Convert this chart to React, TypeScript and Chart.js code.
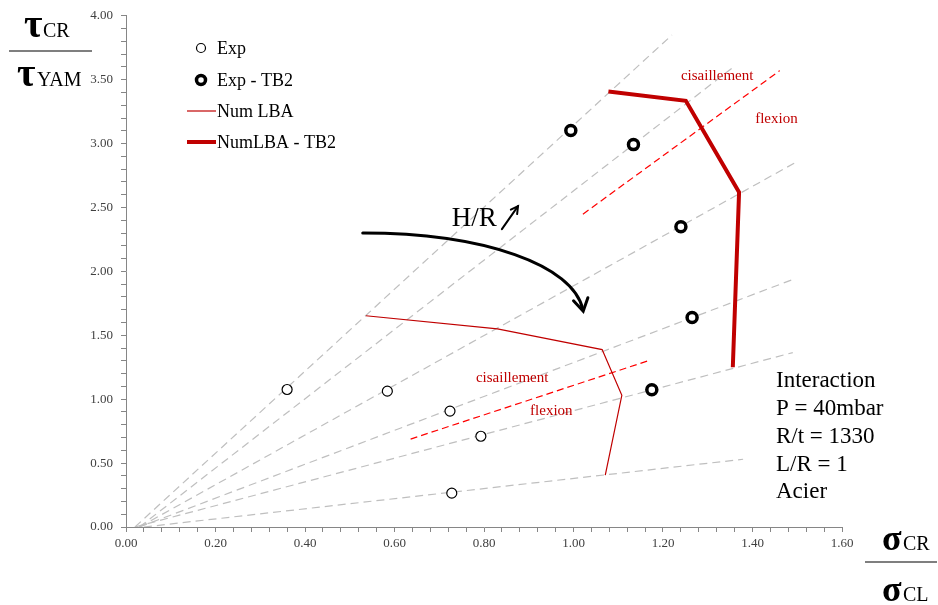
import React, { useEffect, useRef } from 'react';
import { Chart, registerables } from 'chart.js';

Chart.register(...registerables);

// ---- data ----
const expX = [0.36, 0.584, 0.724, 0.793, 0.728];
const expY = [1.076, 1.063, 0.907, 0.71, 0.265];

const tb2X = [0.994, 1.134, 1.24, 1.265, 1.175];
const tb2Y = [3.103, 2.992, 2.35, 1.64, 1.074];

const lbaX = [0.536, 0.83, 1.064, 1.108, 1.071];
const lbaY = [1.653, 1.55, 1.388, 1.03, 0.405];

const lbaTb2X = [1.078, 1.251, 1.37, 1.356];
const lbaTb2Y = [3.407, 3.335, 2.62, 1.25];

// grey guide lines (H/R rays): [x0, y0, x1, y1]
const guideLines = [
  [0.02, 0, 1.22, 3.85],
  [0.03, 0, 1.354, 3.59],
  [0.03, 0, 1.5, 2.86],
  [0.03, 0, 1.488, 1.934],
  [0.02, 0, 1.49, 1.365],
  [0.04, 0, 1.379, 0.53],
];

// red dashed flexion / cisaillement limits
const limitUpper = [1.021, 2.448, 1.461, 3.571];
const limitLower = [0.636, 0.688, 1.168, 1.302];

const legendLabels = ['Exp', 'Exp - TB2', 'Num LBA', 'NumLBA - TB2'];
const infoLines = ['Interaction', 'P = 40mbar', 'R/t = 1330', 'L/R = 1', 'Acier'];

const xTickMajor = 0.2;
const yTickMajor = 0.5;

const FONT = '"Liberation Serif", "DejaVu Serif", serif';
const DARK_RED = '#C00000';
const RED = '#FF0000';
const GREY = '#BFBFBF';
const AXIS = '#868686';

const zip = (xs: number[], ys: number[]) => xs.map((x, i) => ({ x, y: ys[i] }));
const seg = (a: number[]) => [{ x: a[0], y: a[1] }, { x: a[2], y: a[3] }];

const isMajor = (v: number, step: number) => Math.abs(v / step - Math.round(v / step)) < 1e-6;

const overlayPlugin = {
  id: 'overlay',
  afterDatasetsDraw(chart: any) {
    const { ctx, scales } = chart;
    const xs = scales.x;
    const ys = scales.y;
    const px = (v: number) => xs.getPixelForValue(v);
    const py = (v: number) => ys.getPixelForValue(v);
    ctx.save();

    // curved arrow
    const a0 = [0.529, 2.3];
    const c1 = [0.8, 2.3];
    const c2 = [1.0, 2.05];
    const a1 = [1.021, 1.7];
    ctx.strokeStyle = '#000';
    ctx.lineWidth = 3;
    ctx.lineCap = 'round';
    ctx.beginPath();
    ctx.moveTo(px(a0[0]), py(a0[1]));
    ctx.bezierCurveTo(px(c1[0]), py(c1[1]), px(c2[0]), py(c2[1]), px(a1[0]), py(a1[1]));
    ctx.stroke();
    {
      const tx = px(a1[0]);
      const ty = py(a1[1]);
      const ang = Math.atan2(ty - py(c2[1]), tx - px(c2[0]));
      const L = 13;
      ctx.beginPath();
      ctx.moveTo(tx + L * Math.cos(ang + Math.PI - 0.6), ty + L * Math.sin(ang + Math.PI - 0.6));
      ctx.lineTo(tx + 1.5 * Math.cos(ang), ty + 1.5 * Math.sin(ang));
      ctx.lineTo(tx + L * Math.cos(ang + Math.PI + 0.6), ty + L * Math.sin(ang + Math.PI + 0.6));
      ctx.stroke();
    }

    // H/R label and small arrow
    ctx.fillStyle = '#000';
    ctx.font = `27px ${FONT}`;
    ctx.textBaseline = 'alphabetic';
    ctx.textAlign = 'left';
    ctx.fillText('H/R', px(0.728), py(2.355));
    {
      const sx = px(0.84), sy = py(2.331), ex = px(0.876), ey = py(2.511);
      ctx.lineWidth = 2;
      ctx.beginPath();
      ctx.moveTo(sx, sy);
      ctx.lineTo(ex, ey);
      ctx.stroke();
      const ang = Math.atan2(ey - sy, ex - sx);
      const L = 8;
      ctx.beginPath();
      ctx.moveTo(ex + L * Math.cos(ang + Math.PI - 0.5), ey + L * Math.sin(ang + Math.PI - 0.5));
      ctx.lineTo(ex, ey);
      ctx.lineTo(ex + L * Math.cos(ang + Math.PI + 0.5), ey + L * Math.sin(ang + Math.PI + 0.5));
      ctx.stroke();
    }

    // red region labels
    ctx.fillStyle = DARK_RED;
    ctx.font = `15px ${FONT}`;
    ctx.fillText('cisaillement', px(1.24), py(3.501));
    ctx.fillText('flexion', px(1.406), py(3.16));
    ctx.fillText('cisaillement', px(0.782), py(1.133));
    ctx.fillText('flexion', px(0.903), py(0.873));

    // info block
    ctx.fillStyle = '#000';
    ctx.font = `23px ${FONT}`;
    const infoY = [1.092, 0.873, 0.655, 0.437, 0.226];
    infoLines.forEach((t, i) => ctx.fillText(t, px(1.4525), py(infoY[i])));

    // legend
    ctx.font = `18px ${FONT}`;
    ctx.textBaseline = 'middle';
    const rows = [48, 80, 111, 142];
    const mx = 201;
    const tx = 217;
    ctx.strokeStyle = '#000';
    ctx.fillStyle = '#fff';
    ctx.lineWidth = 1.2;
    ctx.beginPath();
    ctx.arc(mx, rows[0], 4.5, 0, Math.PI * 2);
    ctx.fill();
    ctx.stroke();
    ctx.lineWidth = 3.5;
    ctx.beginPath();
    ctx.arc(mx, rows[1], 4.5, 0, Math.PI * 2);
    ctx.fill();
    ctx.stroke();
    ctx.strokeStyle = DARK_RED;
    ctx.lineCap = 'butt';
    ctx.lineWidth = 1.2;
    ctx.beginPath();
    ctx.moveTo(187, rows[2]);
    ctx.lineTo(216, rows[2]);
    ctx.stroke();
    ctx.lineWidth = 4;
    ctx.beginPath();
    ctx.moveTo(187, rows[3]);
    ctx.lineTo(216, rows[3]);
    ctx.stroke();
    ctx.fillStyle = '#000';
    legendLabels.forEach((t, i) => ctx.fillText(t, tx, rows[i] + 1));

    ctx.restore();
  },
  afterDraw(chart: any) {
    const { ctx } = chart;
    ctx.save();
    ctx.fillStyle = '#000';
    ctx.strokeStyle = '#000';
    ctx.textBaseline = 'alphabetic';
    ctx.textAlign = 'left';
    const bigTau = `bold 40px ${FONT}`;
    const bigSigma = `bold 36px ${FONT}`;
    const small = `20px ${FONT}`;
    // y title
    ctx.font = bigTau;
    ctx.fillText('τ', 24, 37);
    ctx.fillText('τ', 17, 86);
    ctx.font = small;
    ctx.fillText('CR', 43, 37);
    ctx.fillText('YAM', 37, 86);
    ctx.lineWidth = 1.2;
    ctx.beginPath();
    ctx.moveTo(9, 51);
    ctx.lineTo(92, 51);
    ctx.stroke();
    // x title
    ctx.font = bigSigma;
    ctx.fillText('σ', 882, 550);
    ctx.fillText('σ', 882, 601);
    ctx.font = small;
    ctx.fillText('CR', 903, 550);
    ctx.fillText('CL', 903, 601);
    ctx.beginPath();
    ctx.moveTo(865, 562);
    ctx.lineTo(937, 562);
    ctx.stroke();
    ctx.restore();
  },
};

export default function App() {
  const ref = useRef<HTMLCanvasElement>(null);
  useEffect(() => {
    const canvas = ref.current;
    if (!canvas) return;
    const guideSets = guideLines.map((g) => ({
      data: seg(g),
      showLine: true,
      borderColor: GREY,
      borderWidth: 1.2,
      borderDash: [8, 5],
      pointRadius: 0,
      order: 10,
    }));
    const chart = new Chart(canvas, {
      type: 'scatter',
      data: {
        datasets: [
          {
            label: 'Exp',
            data: zip(expX, expY),
            pointRadius: 5,
            pointBorderWidth: 1.2,
            pointBorderColor: '#000',
            pointBackgroundColor: '#fff',
            order: 0,
          },
          {
            label: 'Exp - TB2',
            data: zip(tb2X, tb2Y),
            pointRadius: 5,
            pointBorderWidth: 3.5,
            pointBorderColor: '#000',
            pointBackgroundColor: '#fff',
            order: 0,
          },
          {
            label: 'Num LBA',
            data: zip(lbaX, lbaY),
            showLine: true,
            borderColor: DARK_RED,
            borderWidth: 1.2,
            pointRadius: 0,
            order: 2,
          },
          {
            label: 'NumLBA - TB2',
            data: zip(lbaTb2X, lbaTb2Y),
            showLine: true,
            borderColor: DARK_RED,
            borderWidth: 4,
            pointRadius: 0,
            order: 2,
          },
          {
            label: 'limit1',
            data: seg(limitUpper),
            showLine: true,
            borderColor: RED,
            borderWidth: 1.2,
            borderDash: [7, 4],
            pointRadius: 0,
            order: 5,
          },
          {
            label: 'limit2',
            data: seg(limitLower),
            showLine: true,
            borderColor: RED,
            borderWidth: 1.2,
            borderDash: [7, 4],
            pointRadius: 0,
            order: 5,
          },
          ...guideSets,
        ] as any,
      },
      options: {
        animation: false,
        responsive: false,
        maintainAspectRatio: false,
        layout: { padding: { top: 14, right: 96, left: 0, bottom: 0 } },
        plugins: { legend: { display: false }, tooltip: { enabled: false } },
        scales: {
          x: {
            type: 'linear',
            min: 0,
            max: 1.6,
            afterFit: (s: any) => {
              s.height = 78;
            },
            ticks: {
              stepSize: 0.04,
              autoSkip: false,
              maxRotation: 0,
              padding: 4,
              color: '#404040',
              font: { family: FONT, size: 13 },
              callback: (v: any) => (isMajor(Number(v), xTickMajor) ? Number(v).toFixed(2) : ''),
            },
            grid: { drawOnChartArea: false, tickLength: 5, color: AXIS },
            border: { color: AXIS, width: 1 },
          },
          y: {
            type: 'linear',
            min: 0,
            max: 4,
            afterFit: (s: any) => {
              s.width = 126;
            },
            ticks: {
              stepSize: 0.1,
              autoSkip: false,
              padding: 8,
              color: '#404040',
              font: { family: FONT, size: 13 },
              callback: (v: any) => (isMajor(Number(v), yTickMajor) ? Number(v).toFixed(2) : ''),
            },
            grid: { drawOnChartArea: false, tickLength: 5, color: AXIS },
            border: { color: AXIS, width: 1 },
          },
        },
      },
      plugins: [overlayPlugin],
    });
    return () => chart.destroy();
  }, []);
  return (
    <div style={{ position: 'fixed', left: 0, top: 0, width: 938, height: 605, background: '#fff' }}>
      <canvas ref={ref} width={938} height={605} style={{ width: 938, height: 605, display: 'block' }} />
    </div>
  );
}
